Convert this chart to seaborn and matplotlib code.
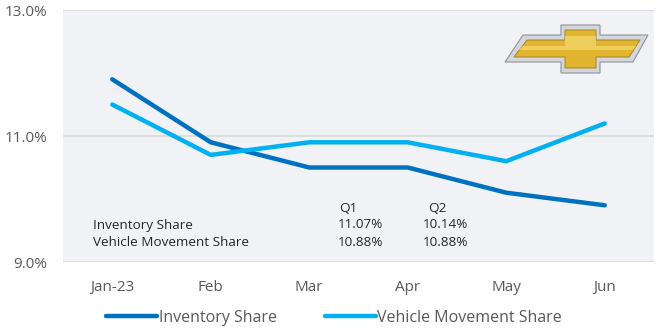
import numpy as np
import pandas as pd
import matplotlib
matplotlib.use("Agg")
import matplotlib.pyplot as plt
from matplotlib.patches import Polygon
from matplotlib.lines import Line2D
import seaborn as sns

months = ["Jan-23", "Feb", "Mar", "Apr", "May", "Jun"]
inventory_share = [11.9, 10.9, 10.5, 10.5, 10.1, 9.9]
vehicle_movement_share = [11.5, 10.7, 10.9, 10.9, 10.6, 11.2]
series_names = ["Inventory Share", "Vehicle Movement Share"]
y_ticks = [9.0, 11.0, 13.0]
quarters = ["Q1", "Q2"]
q_inventory = ["11.07%", "10.14%"]
q_vehicle = ["10.88%", "10.88%"]

df = pd.DataFrame({
    "Share": inventory_share + vehicle_movement_share,
    "Series": [series_names[0]] * 6 + [series_names[1]] * 6,
})
df["x"] = list(range(6)) * 2

sns.set_theme(style="white")
plt.rcParams['font.family'] = ['Open Sans', 'DejaVu Sans']

fig = plt.figure(figsize=(6.7, 3.32), dpi=100)
ax = fig.add_axes([63/670, 1 - 262/332, (654-63)/670, (262-10)/332])
ax.set_facecolor("#F0F2F6")

palette = {series_names[0]: "#0070C0", series_names[1]: "#00B0F0"}
sns.lineplot(data=df, x="x", y="Share", hue="Series", palette=palette,
             linewidth=3.2, ax=ax, legend=False, solid_capstyle="round")

ax.set_xlim(-0.5, 5.5)
ax.set_ylim(9.0, 13.0)
ax.set_yticks(y_ticks)
ax.set_yticklabels([f"{v:.1f}%" for v in y_ticks], color="#595959", fontsize=11)
ax.set_xticks(range(6))
ax.set_xticklabels(months, color="#595959", fontsize=11)
ax.tick_params(axis="both", length=0)
ax.tick_params(axis="y", pad=11)
ax.tick_params(axis="x", pad=13)
ax.set_xlabel("")
ax.set_ylabel("")
for s in ax.spines.values():
    s.set_visible(False)
for v in y_ticks:
    ax.axhline(v, color="#D9D9D9", linewidth=1.2, zorder=0.5)

# summary table
tc = "#262626"
fs = 9.7
def ftext(x, y, s):
    fig.text(x/670, 1 - y/332, s, fontsize=fs, color=tc, va="center", ha="left")
ftext(339, 209, quarters[0])
ftext(428, 209, quarters[1])
ftext(93, 225, series_names[0])
ftext(93, 242, series_names[1])
for i, (a, b) in enumerate(zip(q_inventory, q_vehicle)):
    xx = [338, 423][i]
    ftext(xx, 225, a)
    ftext(xx, 242, b)

# bowtie logo
def fp(pts):
    return [(x/670, 1 - y/332) for x, y in pts]
outer = fp([(523, 35), (561, 35), (561, 25), (600, 25), (600, 35), (648, 35),
            (633, 62), (600, 62), (600, 73), (561, 73), (561, 62), (505, 62)])
inner = fp([(527, 40), (565, 40), (565, 30), (596, 30), (596, 40), (640, 40),
            (629, 57), (596, 57), (596, 68), (565, 68), (565, 57), (514, 57)])
fig.patches.append(Polygon(outer, closed=True, transform=fig.transFigure,
                           facecolor="#D3D7DC", edgecolor="#8E949C", linewidth=0.8))
fig.patches.append(Polygon(inner, closed=True, transform=fig.transFigure,
                           facecolor="#E2B531", edgecolor="#A8821E", linewidth=0.7))
hl = fp([(523, 46), (565, 46), (565, 36), (596, 36), (596, 46), (636, 46),
         (633, 50), (518, 50)])
fig.patches.append(Polygon(hl, closed=True, transform=fig.transFigure,
                           facecolor="#F2D66A", edgecolor="none", alpha=0.8))

# legend
handles = [Line2D([0], [0], color=palette[n], linewidth=3.2) for n in series_names]
fig.legend(handles, series_names, loc="center", bbox_to_anchor=(334/670, 1 - 318/332),
           ncol=2, frameon=False, fontsize=11.5, handlelength=3.2, handletextpad=0.1,
           columnspacing=3.0, labelcolor="#595959", borderaxespad=0, borderpad=0)

fig.savefig("out.png", dpi=100)
